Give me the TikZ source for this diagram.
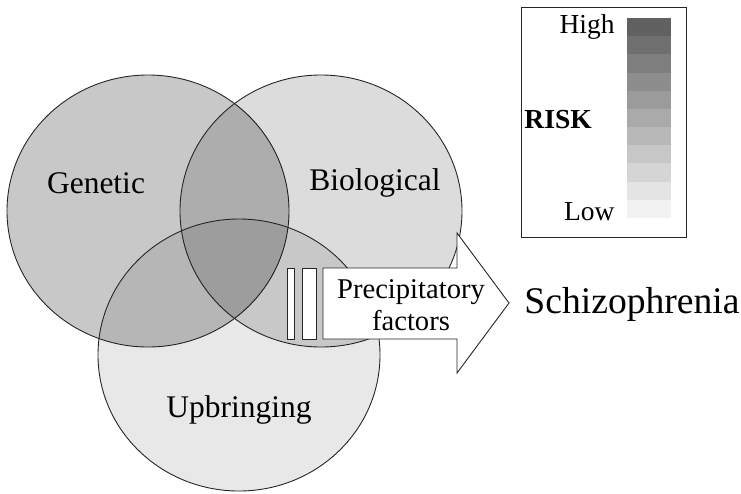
\documentclass[tikz,border=0pt]{standalone}
\usepackage{fontspec}
\setmainfont{Liberation Serif}
\usetikzlibrary{positioning, shapes.geometric}
\definecolor{lineGray}{gray}{0.15}

\begin{document}
\begin{tikzpicture}[x=1pt, y=-1pt, line width=0.9pt,
    venn/.style={draw=lineGray, ellipse, minimum width=282pt, minimum height=272pt,
                 inner sep=0pt, fill=black},
    setlbl/.style={inner sep=0pt, font=\fontsize{31.5}{34}\selectfont},
    legtxt/.style={inner sep=0pt, font=\fontsize{27.5}{30}\selectfont},
    bar/.style={draw=lineGray, fill=white, line width=0.9pt}]
  \useasboundingbox (0,0) rectangle (741,493);

  \node[venn, fill opacity=0.216] (gen) at (148,211) {};
  \node[venn, fill opacity=0.137] (bio) at (321,211) {};
  \node[venn, fill opacity=0.09] (upb) at (239,355) {};

  \node[setlbl] (genTxt) at (96,183) {Genetic};
  \node[setlbl] (bioTxt) at (375,183) {Biological};
  \node[setlbl] (upbTxt) at (239,410) {Upbringing};

  \draw[bar] (287,268) rectangle (294,339);
  \draw[bar] (302,268) rectangle (316,339);
  \draw[bar] (323,268) -- (457,268) -- (457,233) -- (509,303)
    -- (457,373) -- (457,339) -- (323,339) -- cycle;
  \node[align=center, inner sep=0pt, font=\fontsize{28.6}{32}\selectfont]
    (precip) at (411,305) {Precipitatory\\factors};
  \node[inner sep=0pt, anchor=west, font=\fontsize{37.6}{40}\selectfont]
    (schiz) at (524,304) {Schizophrenia};

  \draw[lineGray] (521,7) rectangle (686,237);
  \foreach \i in {0,...,10}
    \fill[black!\fpeval{62-5.7*\i}] (627,{18+18.18*\i}) rectangle (671,{18+18.18*(\i+1)});
  \node[legtxt, anchor=east] (high) at (615,27) {High};
  \node[legtxt, anchor=east] (low) at (615,212) {Low};
  \node[legtxt, anchor=west, font=\fontsize{27.5}{30}\selectfont\bfseries] (risk) at (524,120) {RISK};
\end{tikzpicture}
\end{document}
